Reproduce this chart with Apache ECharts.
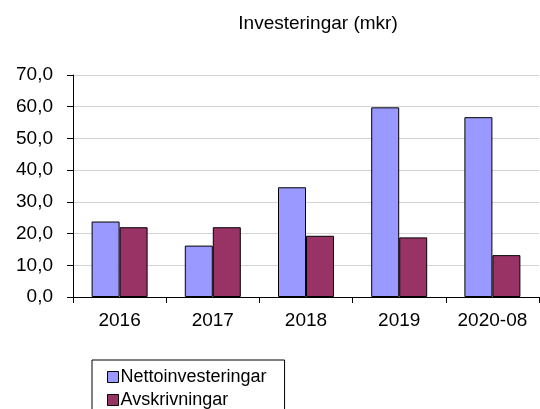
<!DOCTYPE html>
<html>
<head>
<meta charset="utf-8">
<script src="https://cdn.jsdelivr.net/npm/echarts@6/dist/echarts.min.js"></script>
<style>
	html, body { margin: 0; padding: 0; background: #fff; }
	#chart { width: 540px; height: 409px; }
</style>
</head>
<body>
<div id="chart"></div>
<script>
// data
var years = ['2016', '2017', '2018', '2019', '2020-08'];
var netto = [23.8, 16.2, 34.6, 59.8, 56.7];
var avskr = [22.0, 22.0, 19.3, 18.8, 13.2];
var seriesNames = ['Nettoinvesteringar', 'Avskrivningar'];

var font = '"Liberation Sans", Arial, sans-serif';
var myChart = echarts.init(document.getElementById('chart'));

var option = {
	backgroundColor: '#fff',
	animation: false,
	title: {
		text: 'Investeringar (mkr)',
		left: 313,
		textAlign: 'center',
		top: 9,
		textStyle: { fontFamily: font, fontSize: 19, fontWeight: 'normal', color: '#000' }
	},
	legend: {
		orient: 'vertical',
		left: 92,
		top: 360,
		height: 80,
		data: seriesNames,
		icon: 'rect',
		itemWidth: 11,
		itemHeight: 11,
		itemGap: 5,
		borderColor: '#000',
		borderWidth: 1,
		padding: [8, 18, 30, 15],
		itemStyle: { borderColor: '#000', borderWidth: 1 },
		textStyle: { fontFamily: font, fontSize: 18, color: '#000', padding: [0, 0, 0, -3] }
	},
	grid: { left: 73, right: 1, top: 75, bottom: 112, containLabel: false },
	xAxis: {
		type: 'category',
		data: years,
		axisLine: { lineStyle: { color: '#000', width: 1 } },
		axisTick: { show: true, length: 6, lineStyle: { color: '#000' } },
		axisLabel: { margin: 14, fontFamily: font, fontSize: 19, color: '#000' }
	},
	yAxis: {
		type: 'value',
		min: 0,
		max: 70,
		interval: 10,
		axisLine: { show: true, lineStyle: { color: '#000', width: 1 } },
		axisTick: { show: true, length: 6, lineStyle: { color: '#000' } },
		splitLine: { show: true, lineStyle: { color: '#d4d4d4', width: 1 } },
		axisLabel: {
			margin: 20,
			fontFamily: font,
			fontSize: 19,
			color: '#000',
			formatter: function (v) { return v.toFixed(1).replace('.', ','); }
		}
	},
	series: [{
		name: seriesNames[0],
		type: 'bar',
		data: netto,
		barWidth: 28,
		barGap: '0%',
		itemStyle: { color: '#9999ff', borderColor: '#000', borderWidth: 1 }
	}, {
		name: seriesNames[1],
		type: 'bar',
		data: avskr,
		barWidth: 28,
		barGap: '0%',
		itemStyle: { color: '#993366', borderColor: '#000', borderWidth: 1 }
	}]
};

myChart.setOption(option);
</script>
</body>
</html>
